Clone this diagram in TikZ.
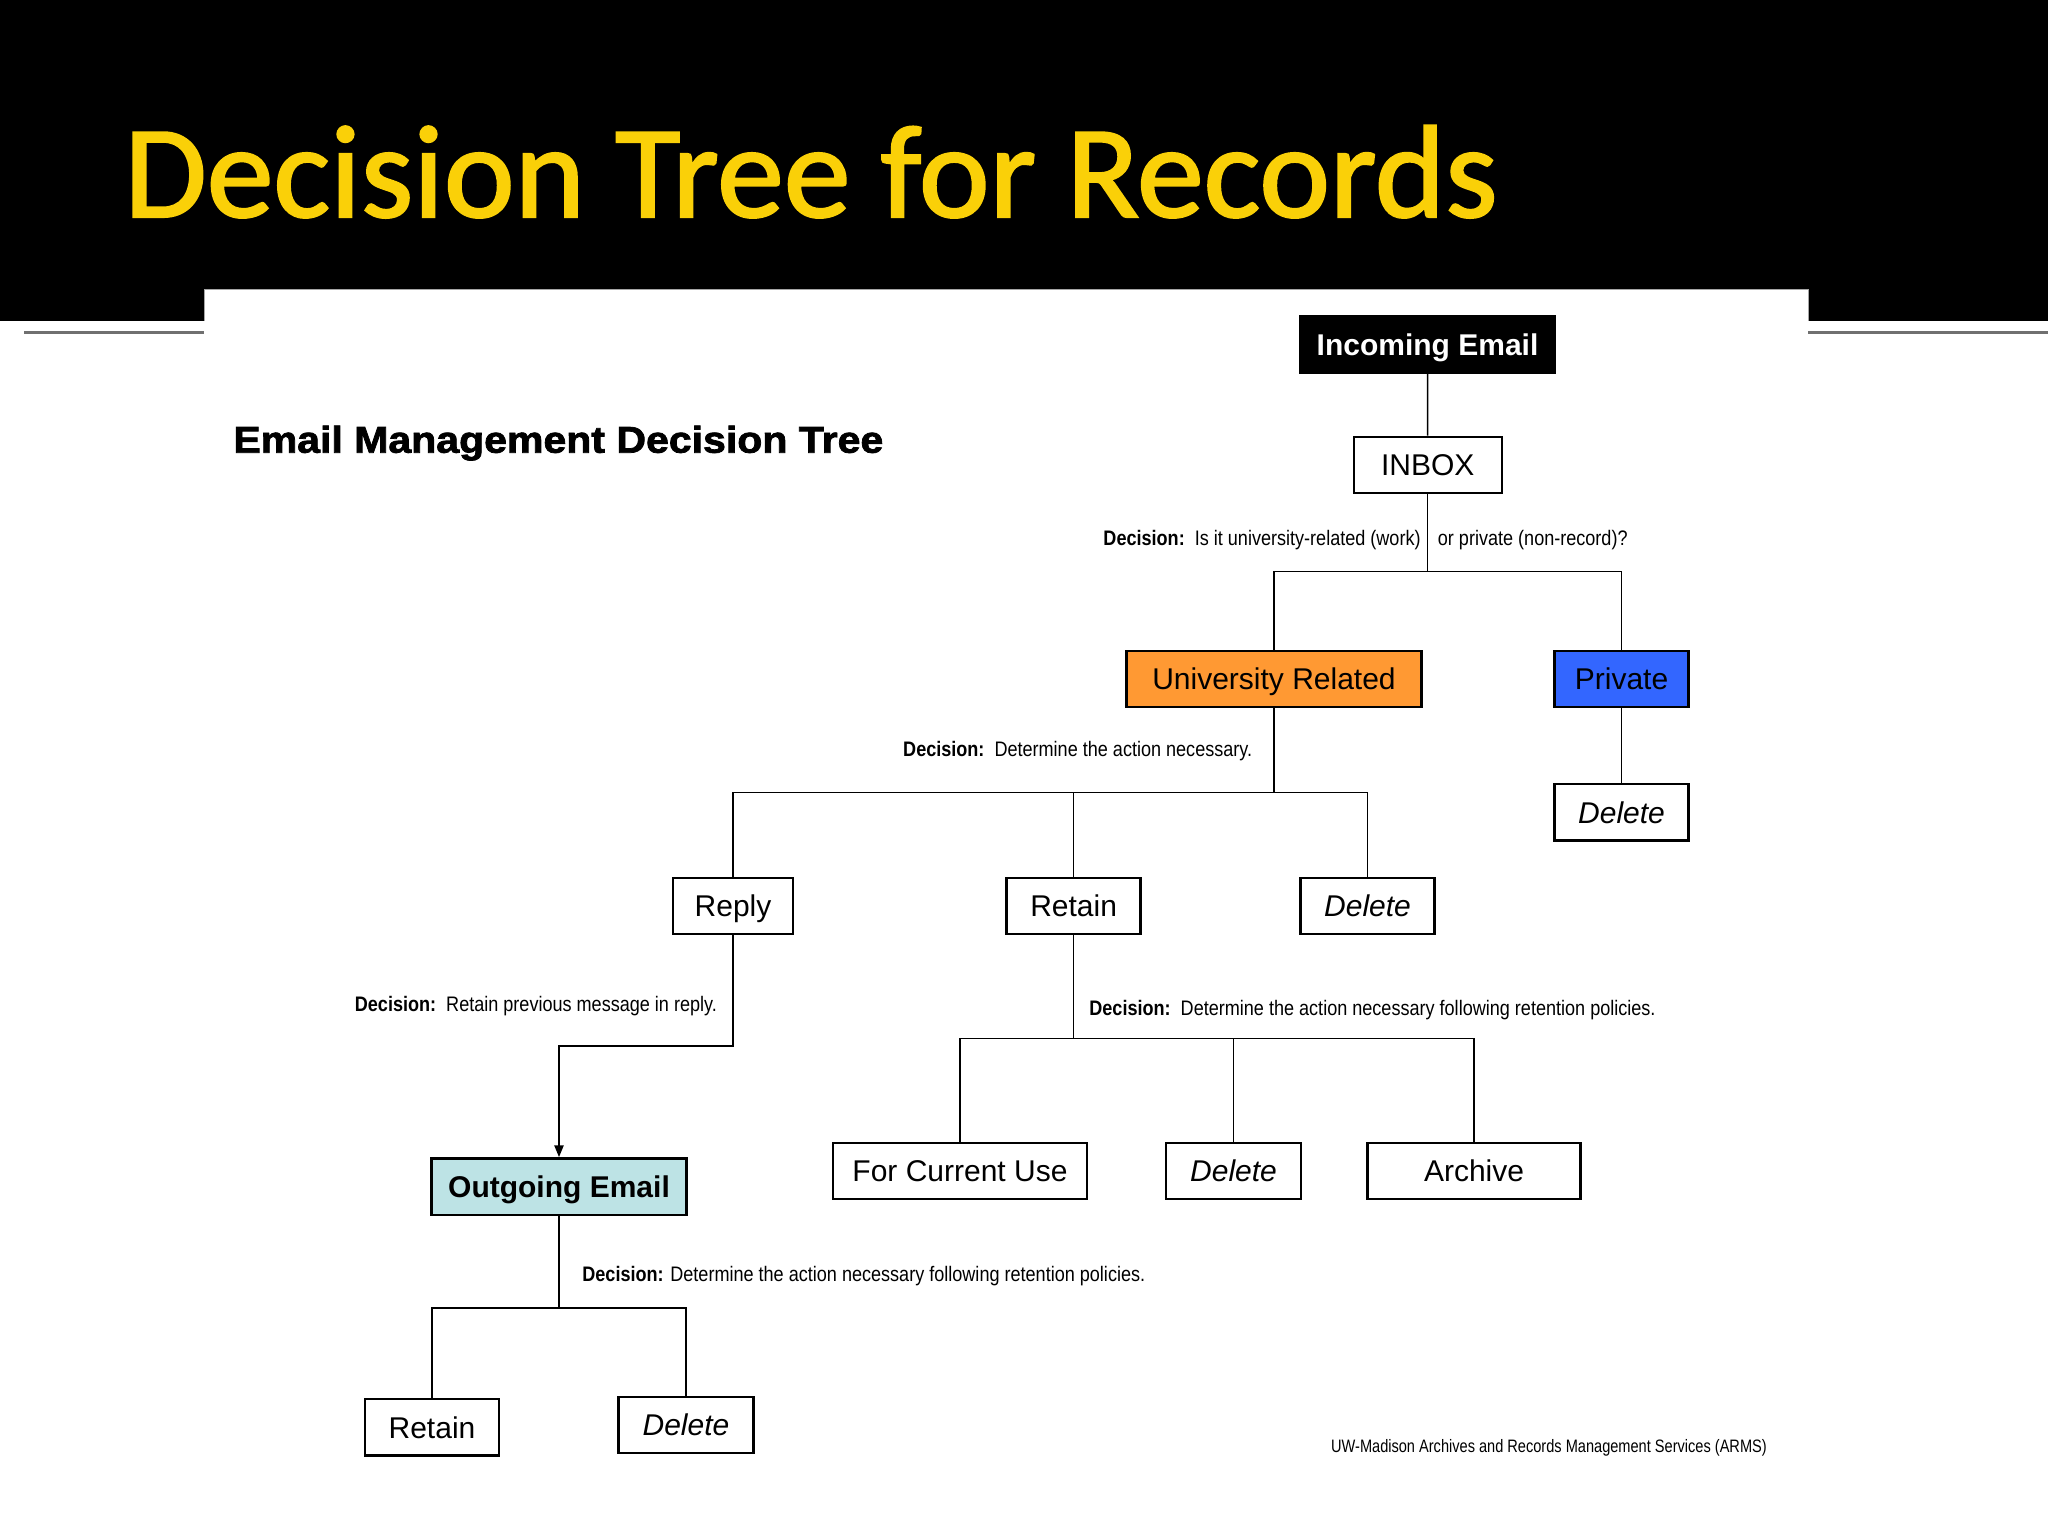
\documentclass[tikz,border=0pt]{standalone}
\usepackage{fontspec}
\setmainfont{Liberation Sans}
\newfontfamily\narrowfont[FakeStretch=0.86]{Liberation Sans}
\newfontfamily\creditfont[FakeStretch=0.81]{Liberation Sans}
\newfontfamily\titlefont[FakeStretch=1.015,FakeBold=1.6]{Carlito}
\newfontfamily\heavyfont[FakeStretch=1.10,BoldFeatures={FakeBold=2}]{Liberation Sans}
\usetikzlibrary{arrows.meta}
\definecolor{titleyellow}{RGB}{250,208,8}
\definecolor{uorange}{RGB}{255,153,51}
\definecolor{pblue}{RGB}{51,102,255}
\definecolor{ocyan}{RGB}{189,227,229}
\definecolor{rulegray}{RGB}{112,112,112}
\tikzset{
  box/.style={draw=black,line width=1.2pt,inner sep=0pt,minimum height=28.2pt,text height=10.75pt,text depth=0pt,font=\fontsize{15}{18}\selectfont,fill=white},
  conn/.style={draw=black,line width=0.75pt},
  arrowline/.style={draw=black,line width=1.2pt,-{Triangle[length=6pt,width=4.5pt]}},
  dec/.style={inner sep=0pt,font=\narrowfont\fontsize{10.5}{12}\selectfont},
}
\begin{document}
\begin{tikzpicture}[x=0.5pt,y=-0.5pt]
\useasboundingbox (0,0) rectangle (2048,1536);
% background
\fill[white] (0,0) rectangle (2048,1536);
\fill[black] (0,0) rectangle (2048,321);
\fill[white] (204,289.3) rectangle (1808,1536);
\draw[gray!70,line width=0.5pt] (204,321) -- (204,289.3) -- (1808,289.3) -- (1808,321);
\draw[rulegray,line width=1.5pt] (24,332.7) -- (204,332.7);
\draw[rulegray,line width=1.5pt] (1808,332.7) -- (2048,332.7);
% title
\node[anchor=base west,inner sep=0pt,text=titleyellow,font=\titlefont\fontsize{66}{70}\selectfont] (title) at (124,217) {Decision Tree for Records};
\node[anchor=base west,inner sep=0pt,font=\heavyfont\bfseries\fontsize{18.65}{22}\selectfont] (sub) at (233,452.7) {Email Management Decision Tree};
% nodes
\node[box,fill=black,text=white,font=\bfseries\fontsize{15}{18}\selectfont,minimum width=127.5pt] (inc) at (1427.5,344.5) {Incoming Email};
\node[box,minimum width=74pt] (inbox) at (1427.7,465) {INBOX};
\node[box,fill=uorange,minimum width=147.5pt] (univ) at (1274,679) {University Related};
\node[box,fill=pblue,minimum width=67pt] (priv) at (1621.5,679) {Private};
\node[box,minimum width=67pt,font=\itshape\fontsize{15}{18}\selectfont] (pdel) at (1621.5,812.3) {Delete};
\node[box,minimum width=60.25pt] (reply) at (733,906) {Reply};
\node[box,minimum width=67pt] (retain) at (1073.6,906) {Retain};
\node[box,minimum width=67pt,font=\itshape\fontsize{15}{18}\selectfont] (delA) at (1367.5,906) {Delete};
\node[box,fill=ocyan,minimum width=127.5pt,font=\bfseries\fontsize{15}{18}\selectfont] (out) at (559,1186.7) {Outgoing Email};
\node[box,minimum width=127pt] (fcu) at (960,1171) {For Current Use};
\node[box,minimum width=67.5pt,font=\itshape\fontsize{15}{18}\selectfont] (delB) at (1233.5,1171) {Delete};
\node[box,minimum width=106.5pt] (arch) at (1474,1171) {Archive};
\node[box,minimum width=67pt] (retC) at (432,1427.3) {Retain};
\node[box,minimum width=67.5pt,font=\itshape\fontsize{15}{18}\selectfont] (delC) at (686,1425) {Delete};
% connectors
\coordinate (b1) at (1427.7,571.7);
\draw[conn] (inc.south) -- (inbox.north);
\draw[conn] (inbox.south) -- (b1);
\draw[conn] (univ.north) |- (b1) -| (priv.north);
\draw[conn] (priv.south) -- (pdel.north);
\coordinate (b2) at (1274,792.3);
\draw[conn] (univ.south) -- (b2);
\draw[conn] (reply.north) |- (b2) -| (delA.north);
\draw[conn] (retain.north) -- (retain.north |- b2);
\coordinate (k) at (559,1046);
\draw[arrowline] (reply.south) |- (k) -- (out.north);
\coordinate (b4) at (1073.6,1038.3);
\draw[conn] (retain.south) -- (b4);
\draw[conn] (fcu.north) |- (b4) -| (arch.north);
\draw[conn] (delB.north) -- (delB.north |- b4);
\coordinate (b5) at (559,1308);
\draw[conn] (out.south) -- (b5);
\draw[conn] (retC.north) |- (b5) -| (delC.north);
% decision texts
\node[dec,anchor=base east] (d1a) at (1421,545) {\textbf{Decision:}\ \ Is it university-related (work)};
\node[dec,anchor=base west] (d1b) at (1437.5,545) {or private (non-record)?};
\node[dec,anchor=base west] (d2) at (902.8,756.7) {\textbf{Decision:}\ \ Determine the action necessary.};
\node[dec,anchor=base west] (d3) at (354.5,1011.7) {\textbf{Decision:}\ \ Retain previous message in reply.};
\node[dec,anchor=base west] (d4) at (1089,1015) {\textbf{Decision:}\ \ Determine the action necessary following retention policies.};
\node[dec,anchor=base west] (d5) at (582,1281.7) {\textbf{Decision:} Determine the action necessary following retention policies.};
\node[dec,anchor=base west,font=\creditfont\fontsize{9}{11}\selectfont] (credit) at (1330.7,1452.3) {UW-Madison Archives and Records Management Services (ARMS)};
\end{tikzpicture}
\end{document}
